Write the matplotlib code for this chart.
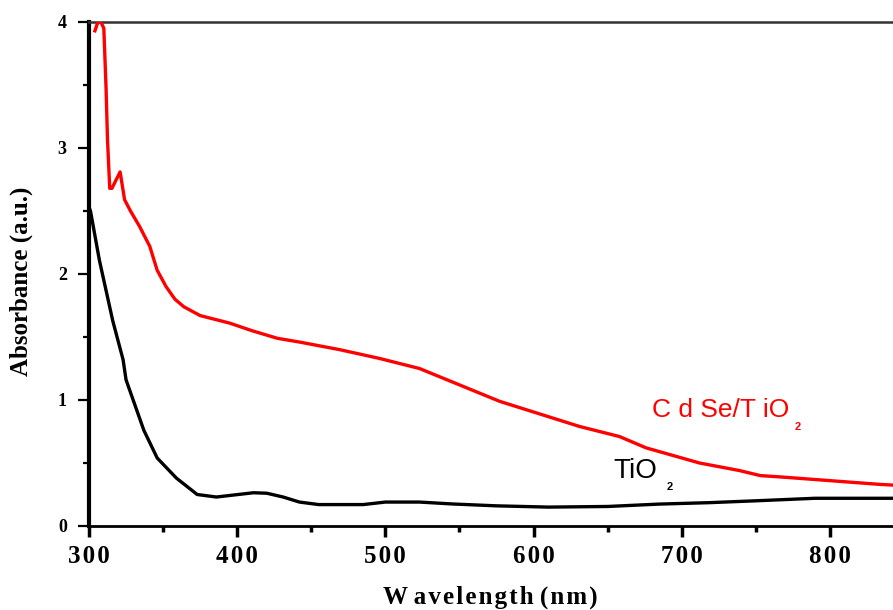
import matplotlib
matplotlib.use("Agg")
import matplotlib.pyplot as plt
from matplotlib.ticker import MultipleLocator, FixedLocator

# TiO2 absorbance spectrum (black)
tio2_wl = [300, 301, 307, 316, 323, 325, 337, 346, 359, 373, 386, 397, 411, 420,
           431, 442, 455, 485, 500, 523, 545, 575, 610, 650, 685, 718, 750, 790, 850]
tio2_abs = [2.53, 2.5, 2.11, 1.63, 1.32, 1.16, 0.76, 0.54, 0.38, 0.25, 0.23, 0.245,
            0.264, 0.26, 0.23, 0.19, 0.17, 0.17, 0.19, 0.19, 0.175, 0.16, 0.15, 0.155,
            0.174, 0.185, 0.2, 0.22, 0.22]

# CdSe/TiO2 absorbance spectrum (red)
cdse_wl = [304, 306, 308, 310, 311.5, 312.5, 314, 315.5, 318, 321, 324, 328, 334, 341,
           346, 352, 358, 364, 375, 395, 410, 427, 442, 469, 496, 523, 550, 577, 604,
           631, 658, 676, 700, 712, 739, 753, 766, 800, 834, 850]
cdse_abs = [3.93, 4.0, 4.0, 3.95, 3.48, 3.06, 2.68, 2.68, 2.74, 2.81, 2.59, 2.5, 2.38,
            2.22, 2.03, 1.9, 1.8, 1.74, 1.67, 1.61, 1.55, 1.49, 1.46, 1.4, 1.33, 1.25,
            1.12, 0.99, 0.89, 0.79, 0.71, 0.62, 0.54, 0.5, 0.44, 0.40, 0.39, 0.36, 0.33,
            0.32]

x_ticks = [300, 400, 500, 600, 700, 800]
x_tick_labels = ["300", "400", "500", "600", "700", "800"]
y_ticks = [0, 1, 2, 3, 4]
y_tick_labels = ["0", "1", "2", "3", "4"]

serif = "Liberation Serif"
sans = "Liberation Sans"
hs = "\u200a"  # hair space for the loose letter spacing of the original

fig = plt.figure(figsize=(8.93, 6.10), dpi=100)
# axes run a little past the right edge of the figure (cropped like the original)
ax = fig.add_axes([89 / 893, 84 / 610, 815 / 893, 504 / 610])

ax.plot(tio2_wl, tio2_abs, color="black", lw=2.4, zorder=3)
ax.plot(cdse_wl, cdse_abs, color="#ff0000", lw=2.4, zorder=3)

ax.set_xlim(300, 850)
ax.set_ylim(0, 4)

ax.xaxis.set_major_locator(FixedLocator(x_ticks))
ax.set_xticklabels([hs.join(t) for t in x_tick_labels], fontfamily=serif,
                   fontweight="bold", fontsize=18)
ax.xaxis.set_minor_locator(MultipleLocator(50))
ax.yaxis.set_major_locator(FixedLocator(y_ticks))
ax.set_yticklabels(y_tick_labels, fontfamily=serif, fontweight="bold", fontsize=13)
ax.yaxis.set_minor_locator(MultipleLocator(0.5))

ax.tick_params(axis="x", which="major", direction="out", length=8, width=2.5, pad=6)
ax.tick_params(axis="x", which="minor", direction="out", length=4.5, width=2.5)
ax.tick_params(axis="y", which="major", direction="out", length=8, width=1.6, pad=8)
ax.tick_params(axis="y", which="minor", direction="out", length=4.5, width=1.6)

ax.spines["left"].set_linewidth(3.0)
ax.spines["bottom"].set_linewidth(2.0)
ax.spines["top"].set_linewidth(1.8)
ax.spines["top"].set_color("#333333")
ax.spines["right"].set_visible(False)

ax.set_xlabel("W " + hs.join("avelength") + " " + hs.join("(nm)"),
              fontfamily=serif, fontweight="bold", fontsize=18)
ax.xaxis.set_label_coords(0.492, -0.118)
ax.set_ylabel("Absorbance (a.u.)", fontfamily=serif, fontweight="bold", fontsize=18)
ax.yaxis.set_label_coords(-0.069, 0.486)

ax.text(679.9, 0.867, "C d Se/T iO", color="#ff0000", fontfamily=sans,
        fontsize=19, ha="left", va="baseline")
ax.text(778.4, 0.786, "2", color="#ff0000", fontfamily=sans,
        fontsize=8, fontweight="bold", ha="center", va="center")
ax.text(653.6, 0.381, "TiO", color="black", fontfamily=sans,
        fontsize=20, ha="left", va="baseline")
ax.text(692, 0.31, "2", color="black", fontfamily=sans,
        fontsize=8, fontweight="bold", ha="center", va="center")

fig.savefig("out.png", dpi=100)
